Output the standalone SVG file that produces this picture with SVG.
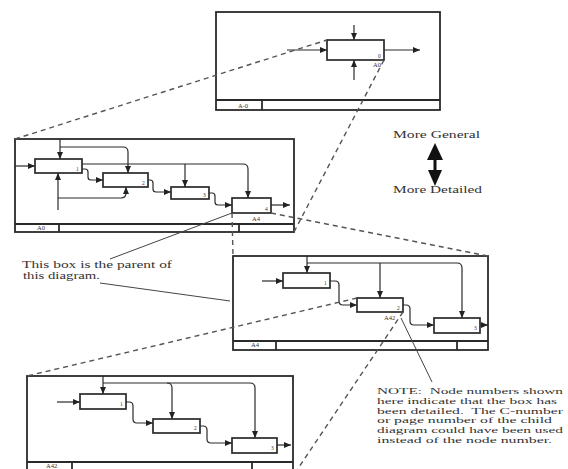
<svg xmlns="http://www.w3.org/2000/svg" width="568" height="469" viewBox="0 0 568 469">
<style>
.frame{fill:none;stroke:#2a2a2a;stroke-width:1.8}
.box{fill:#fff;stroke:#2a2a2a;stroke-width:1.7}
.ln{fill:none;stroke:#2a2a2a;stroke-width:1.2}
.arr{fill:none;stroke:#2a2a2a;stroke-width:1.2;marker-end:url(#ah)}
.dash{fill:none;stroke:#555;stroke-width:1.4;stroke-dasharray:5,4}
.ptr{fill:none;stroke:#444;stroke-width:1}
.num{font-family:"Liberation Serif",serif;font-size:5.5px;fill:#333}
.lab{font-family:"Liberation Serif",serif;font-size:6.5px;fill:#333}
.txt{font-family:"Liberation Serif",serif;font-size:10px;fill:#333}
.note{font-family:"Liberation Serif",serif;font-size:9px;fill:#333}
</style>
<defs>
<marker id="ah" markerWidth="7" markerHeight="6" refX="7" refY="3" orient="auto" markerUnits="userSpaceOnUse">
<path d="M0,0 L7,3 L0,6 z" fill="#222"/>
</marker>
</defs>
<rect width="568" height="469" fill="#fff"/>

<g id="diagram-A-0">
<rect class="frame" x="216" y="12" width="224" height="98"/>
<line class="frame" x1="216" y1="100" x2="440" y2="100"/>
<line class="frame" x1="262" y1="100" x2="262" y2="110"/>
<text class="lab" x="238" y="108">A-0</text>
</g>
<g id="node-A0">
<rect class="box" x="327" y="40" width="57" height="20"/>
<text class="num" x="378" y="58">0</text>
<text class="lab" x="373" y="67">A0</text>
</g>

<g id="diagram-A0">
<rect class="frame" x="15" y="139" width="279" height="93"/>
<line class="frame" x1="15" y1="224" x2="294" y2="224"/>
<line class="frame" x1="59" y1="224" x2="59" y2="232"/>
<line class="frame" x1="239" y1="224" x2="239" y2="232"/>
<text class="lab" x="37" y="230">A0</text>
</g>
<g id="node-A0-1"><rect class="box" x="35" y="159" width="47" height="14"/><text class="num" x="76" y="171">1</text></g>
<g id="node-A0-2"><rect class="box" x="103" y="173" width="45" height="14"/><text class="num" x="142" y="185">2</text></g>
<g id="node-A0-3"><rect class="box" x="171" y="187" width="38" height="12"/><text class="num" x="203" y="197">3</text></g>
<g id="node-A0-4"><rect class="box" x="232" y="198" width="39" height="15"/><text class="num" x="265" y="211">4</text><text class="lab" x="252" y="221">A4</text></g>

<g id="diagram-A4">
<rect class="frame" x="233" y="256" width="255" height="94"/>
<line class="frame" x1="233" y1="341" x2="488" y2="341"/>
<line class="frame" x1="276" y1="341" x2="276" y2="350"/>
<line class="frame" x1="457" y1="341" x2="457" y2="350"/>
<text class="lab" x="251" y="347">A4</text>
</g>
<g id="node-A4-1"><rect class="box" x="283" y="273" width="47" height="15"/><text class="num" x="324" y="285">1</text></g>
<g id="node-A4-2"><rect class="box" x="357" y="298" width="46" height="14"/><text class="num" x="397" y="310">2</text><text class="lab" x="384" y="320">A42</text></g>
<g id="node-A4-3"><rect class="box" x="434" y="318" width="46" height="15"/><text class="num" x="474" y="330">3</text></g>

<g id="diagram-A42">
<rect class="frame" x="27" y="376" width="266" height="100"/>
<line class="frame" x1="27" y1="462" x2="293" y2="462"/>
<line class="frame" x1="72" y1="462" x2="72" y2="476"/>
<line class="frame" x1="252" y1="462" x2="252" y2="476"/>
<text class="lab" x="46" y="468">A42</text>
</g>
<g id="node-A42-1"><rect class="box" x="80" y="394" width="46" height="15"/><text class="num" x="120" y="406">1</text></g>
<g id="node-A42-2"><rect class="box" x="153" y="419" width="47" height="14"/><text class="num" x="194" y="430">2</text></g>
<g id="node-A42-3"><rect class="box" x="232" y="438" width="45" height="15"/><text class="num" x="271" y="450">3</text></g>

<g id="connectors">
<path class="arr" d="M287,50 H327"/>
<path class="arr" d="M354,25 V40"/>
<path class="arr" d="M354,80 V60"/>
<path class="arr" d="M384,50 H420"/>
<path class="arr" d="M15,166 H35"/>
<path class="arr" d="M60,139 V159"/>
<path class="arr" d="M60,147 H123 Q128,147 128,152 V173"/>
<path class="arr" d="M82,164 H243 Q248,164 248,169 V198"/>
<path class="arr" d="M185,164 V187"/>
<path class="arr" d="M82,169 H85 Q88,169 88,172 V177 Q88,180 91,180 H103"/>
<path class="arr" d="M148,180 H150 Q153,180 153,183 V189 Q153,192 156,192 H171"/>
<path class="arr" d="M209,193 H212 Q215,193 215,196 V202 Q215,205 218,205 H232"/>
<path class="arr" d="M271,205 H290"/>
<path class="arr" d="M58,210 V173"/>
<path class="arr" d="M58,198 H121 Q126,198 126,193 V187"/>
<path class="arr" d="M262,281 H283"/>
<path class="arr" d="M307,256 V273"/>
<path class="arr" d="M307,263 H457 Q462,263 462,268 V318"/>
<path class="arr" d="M380,263 V298"/>
<path class="arr" d="M330,281 H335 Q339,281 339,285 V301 Q339,305 343,305 H357"/>
<path class="arr" d="M403,305 H406 Q410,305 410,309 V321 Q410,325 414,325 H434"/>
<path class="arr" d="M480,325 H488"/>
<path class="arr" d="M57,402 H80"/>
<path class="arr" d="M103,376 V394"/>
<path class="arr" d="M103,383 H250 Q255,383 255,388 V438"/>
<path class="arr" d="M167,383 Q172,383 172,388 V419"/>
<path class="arr" d="M126,402 H129 Q133,402 133,406 V419 Q133,423 137,423 H153"/>
<path class="arr" d="M200,426 H203 Q207,426 207,430 V439 Q207,443 211,443 H232"/>
<path class="arr" d="M277,445 H291"/>
<path class="dash" d="M15,139 L327,40"/>
<path class="dash" d="M384,60 L294,232"/>
<path class="dash" d="M232,213 L233,256"/>
<path class="dash" d="M271,213 L488,256"/>
<path class="dash" d="M357,298 L27,376"/>
<path class="dash" d="M403,312 L293,476"/>
<path class="ptr" d="M110,259 L232,213"/>
<path class="ptr" d="M100,283 L230,301"/>
<path class="ptr" d="M401,318 L432,382"/>
</g>

<g id="legend">
<text class="txt" x="393" y="138" textLength="87" lengthAdjust="spacingAndGlyphs">More General</text>
<polygon points="435,143 427,160 443,160" fill="#111"/>
<rect x="433.5" y="159" width="3" height="12" fill="#111"/>
<polygon points="435,186 428,170 442,170" fill="#111"/>
<text class="txt" x="393" y="193" textLength="89" lengthAdjust="spacingAndGlyphs">More Detailed</text>
</g>

<g id="note-parent">
<text class="txt" x="22" y="268" textLength="150" lengthAdjust="spacingAndGlyphs">This box is the parent of</text>
<text class="txt" x="23" y="279" textLength="77" lengthAdjust="spacingAndGlyphs">this diagram.</text>
</g>

<g id="note-numbers">
<text class="note" x="377" y="394" textLength="186" lengthAdjust="spacingAndGlyphs">NOTE:&#160; Node numbers shown</text>
<text class="note" x="377" y="403.8" textLength="180" lengthAdjust="spacingAndGlyphs">here indicate that the box has</text>
<text class="note" x="377" y="413.6" textLength="186" lengthAdjust="spacingAndGlyphs">been detailed.&#160; The C-number</text>
<text class="note" x="377" y="423.4" textLength="175" lengthAdjust="spacingAndGlyphs">or page number of the child</text>
<text class="note" x="377" y="433.2" textLength="186" lengthAdjust="spacingAndGlyphs">diagram could have been used</text>
<text class="note" x="377" y="443" textLength="175" lengthAdjust="spacingAndGlyphs">instead of the node number.</text>
</g>
</svg>
